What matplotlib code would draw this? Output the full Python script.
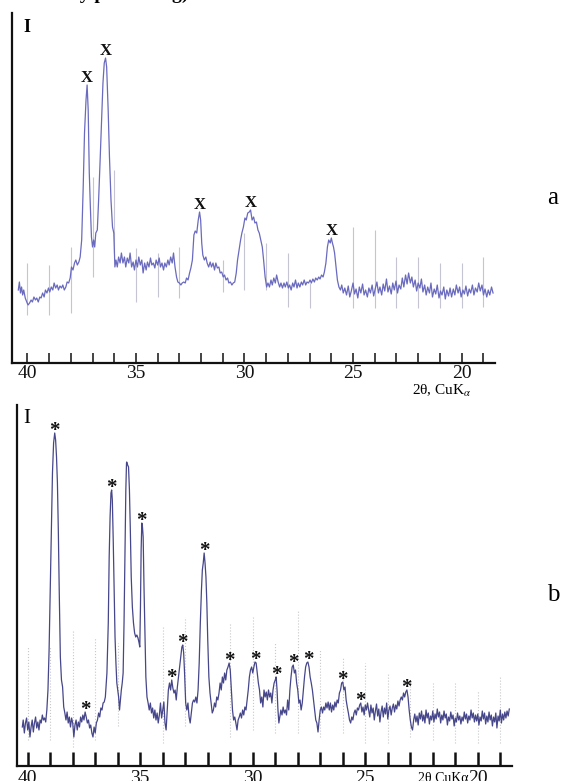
"""
plot.py
XRD patterns (a) and (b), 2θ CuKα, redrawn with matplotlib
"""
import numpy as np
import matplotlib
matplotlib.use('Agg')
import matplotlib.pyplot as plt

plt.rcParams['font.family'] = ['Liberation Serif', 'DejaVu Serif']
plt.rcParams['mathtext.fontset'] = 'stix'

# ──────────────────────────────────────────────────────────────
# Data: (2θ, intensity in arbitrary units)
# ──────────────────────────────────────────────────────────────
SCAN_A = [
    (40.42, 73), (40.37, 81), (40.32, 70), (40.27, 76), (40.22, 68), (40.17, 73),
    (40.10, 65), (40.03, 61), (39.97, 58), (39.90, 60), (39.83, 63), (39.77, 61),
    (39.70, 66), (39.63, 63), (39.57, 65), (39.50, 61), (39.43, 66), (39.37, 65),
    (39.30, 70), (39.23, 66), (39.17, 73), (39.10, 70), (39.03, 75), (38.97, 71),
    (38.90, 76), (38.83, 73), (38.77, 80), (38.70, 75), (38.63, 78), (38.57, 73),
    (38.50, 77), (38.43, 75), (38.37, 78), (38.30, 73), (38.23, 76), (38.17, 81),
    (38.10, 80), (38.03, 85), (37.97, 96), (37.90, 93), (37.83, 100), (37.77, 103),
    (37.70, 98), (37.63, 101), (37.57, 106), (37.50, 123), (37.43, 176), (37.37, 230),
    (37.30, 263), (37.25, 278), (37.20, 253), (37.15, 190), (37.10, 156), (37.05, 126),
    (37.00, 116), (36.95, 123), (36.90, 116), (36.85, 130), (36.78, 133), (36.72, 163),
    (36.65, 203), (36.58, 246), (36.52, 280), (36.46, 300), (36.40, 305), (36.35, 296),
    (36.28, 253), (36.22, 206), (36.15, 163), (36.08, 136), (36.02, 130), (35.97, 96),
    (35.92, 103), (35.86, 96), (35.80, 106), (35.73, 100), (35.67, 110), (35.60, 100),
    (35.53, 106), (35.47, 96), (35.40, 105), (35.33, 100), (35.27, 110), (35.20, 96),
    (35.13, 101), (35.07, 93), (35.00, 103), (34.93, 96), (34.87, 106), (34.80, 98),
    (34.73, 103), (34.67, 90), (34.60, 100), (34.53, 93), (34.47, 101), (34.40, 96),
    (34.33, 105), (34.27, 98), (34.20, 100), (34.13, 95), (34.07, 103), (34.00, 98),
    (33.93, 105), (33.87, 96), (33.80, 100), (33.73, 93), (33.67, 100), (33.60, 96),
    (33.53, 103), (33.47, 98), (33.40, 106), (33.33, 100), (33.27, 110), (33.20, 96),
    (33.13, 86), (33.07, 81), (33.00, 80), (32.93, 78), (32.87, 80), (32.80, 81),
    (32.73, 80), (32.67, 85), (32.60, 83), (32.53, 90), (32.47, 95), (32.40, 103),
    (32.33, 128), (32.27, 132), (32.20, 130), (32.13, 143), (32.07, 151), (32.02, 143),
    (31.97, 120), (31.92, 108), (31.85, 103), (31.78, 106), (31.72, 100), (31.65, 96),
    (31.58, 101), (31.52, 96), (31.45, 100), (31.38, 93), (31.32, 100), (31.25, 95),
    (31.18, 96), (31.12, 90), (31.05, 91), (30.98, 86), (30.92, 88), (30.85, 83),
    (30.78, 85), (30.72, 80), (30.65, 81), (30.58, 78), (30.52, 80), (30.45, 81),
    (30.38, 90), (30.32, 103), (30.25, 113), (30.18, 123), (30.12, 130), (30.05, 136),
    (29.98, 145), (29.92, 143), (29.85, 150), (29.78, 151), (29.72, 153), (29.65, 143),
    (29.58, 146), (29.52, 140), (29.45, 141), (29.38, 133), (29.32, 130), (29.25, 123),
    (29.18, 116), (29.12, 103), (29.05, 86), (28.98, 76), (28.92, 80), (28.85, 76),
    (28.78, 83), (28.72, 78), (28.65, 85), (28.58, 80), (28.52, 88), (28.45, 81),
    (28.38, 76), (28.32, 80), (28.25, 75), (28.18, 80), (28.12, 76), (28.05, 81),
    (27.98, 75), (27.92, 78), (27.85, 73), (27.78, 80), (27.72, 76), (27.65, 83),
    (27.58, 75), (27.52, 80), (27.45, 76), (27.38, 81), (27.32, 78), (27.25, 83),
    (27.18, 78), (27.12, 81), (27.05, 80), (26.98, 83), (26.92, 80), (26.85, 84),
    (26.78, 81), (26.72, 85), (26.65, 83), (26.58, 86), (26.52, 84), (26.45, 88),
    (26.38, 86), (26.32, 91), (26.25, 100), (26.18, 116), (26.12, 123), (26.05, 120),
    (26.00, 125), (25.95, 120), (25.90, 116), (25.85, 110), (25.78, 96), (25.72, 83),
    (25.65, 76), (25.58, 73), (25.52, 78), (25.45, 70), (25.38, 75), (25.30, 68),
    (25.22, 77), (25.15, 66), (25.08, 72), (25.00, 80), (24.93, 69), (24.86, 74),
    (24.78, 65), (24.71, 76), (24.64, 70), (24.56, 79), (24.49, 68), (24.42, 73),
    (24.34, 66), (24.27, 75), (24.20, 70), (24.12, 78), (24.05, 67), (23.98, 74),
    (23.90, 81), (23.83, 70), (23.76, 76), (23.68, 68), (23.61, 79), (23.54, 72),
    (23.46, 84), (23.39, 71), (23.32, 77), (23.24, 69), (23.17, 80), (23.10, 73),
    (23.02, 82), (22.95, 70), (22.88, 78), (22.80, 74), (22.73, 85), (22.66, 76),
    (22.58, 88), (22.51, 79), (22.44, 90), (22.36, 80), (22.29, 86), (22.22, 76),
    (22.14, 83), (22.07, 72), (22.00, 80), (21.92, 75), (21.85, 84), (21.78, 71),
    (21.70, 78), (21.63, 68), (21.56, 76), (21.48, 70), (21.41, 80), (21.34, 66),
    (21.26, 74), (21.19, 69), (21.12, 78), (21.04, 65), (20.97, 72), (20.90, 68),
    (20.82, 76), (20.75, 64), (20.68, 73), (20.60, 67), (20.53, 75), (20.46, 66),
    (20.38, 74), (20.31, 68), (20.24, 78), (20.16, 70), (20.09, 76), (20.02, 66),
    (19.94, 73), (19.87, 69), (19.80, 77), (19.72, 67), (19.65, 74), (19.58, 70),
    (19.50, 78), (19.43, 68), (19.36, 75), (19.28, 71), (19.21, 80), (19.14, 72),
    (19.06, 78), (18.99, 68), (18.92, 74), (18.84, 66), (18.77, 73), (18.70, 68),
    (18.62, 76), (18.55, 70),
]

PEAKS_A = [37.25, 36.40, 32.07, 29.72, 26.00]          # marked "X"

# faint vertical instrument lines of pattern a: position, low, high
SPIKE_A_POS = [40, 39, 38, 37, 36, 35, 34, 33, 31, 30, 29, 28, 27, 25, 24, 23, 22, 21, 20, 19]
SPIKE_A_LO = [48, 48, 50, 86, 110, 61, 66, 65, 71, 73, 73, 56, 55, 55, 55, 55, 55, 55, 55, 56]
SPIKE_A_HI = [100, 98, 116, 186, 193, 115, 110, 116, 103, 130, 120, 110, 80, 136, 133, 106, 106, 100, 100, 106]

SCAN_B = [
    (40.24, 39), (40.20, 46), (40.15, 33), (40.10, 43), (40.05, 48), (40.00, 36),
    (39.95, 44), (39.90, 29), (39.85, 39), (39.80, 46), (39.75, 34), (39.70, 43),
    (39.65, 49), (39.60, 38), (39.55, 44), (39.50, 36), (39.45, 46), (39.40, 43),
    (39.35, 51), (39.30, 46), (39.25, 48), (39.20, 44), (39.15, 56), (39.10, 76),
    (39.05, 116), (39.00, 176), (38.95, 236), (38.90, 293), (38.85, 323), (38.80, 333),
    (38.76, 326), (38.72, 309), (38.68, 283), (38.64, 236), (38.60, 176), (38.55, 109),
    (38.50, 86), (38.45, 79), (38.40, 59), (38.35, 53), (38.30, 46), (38.25, 54),
    (38.20, 43), (38.15, 49), (38.10, 39), (38.05, 48), (38.00, 43), (37.95, 29),
    (37.90, 41), (37.85, 46), (37.80, 36), (37.75, 44), (37.70, 39), (37.65, 49),
    (37.60, 44), (37.55, 51), (37.50, 46), (37.45, 54), (37.40, 49), (37.35, 43),
    (37.30, 46), (37.25, 38), (37.20, 41), (37.15, 33), (37.10, 29), (37.05, 39),
    (37.00, 33), (36.95, 43), (36.90, 46), (36.85, 53), (36.80, 49), (36.75, 58),
    (36.70, 56), (36.65, 63), (36.60, 64), (36.55, 69), (36.48, 93), (36.42, 143),
    (36.38, 209), (36.34, 249), (36.30, 273), (36.27, 276), (36.24, 266), (36.20, 226),
    (36.16, 176), (36.12, 129), (36.08, 103), (36.04, 83), (36.00, 76), (35.96, 69),
    (35.92, 56), (35.88, 66), (35.84, 76), (35.80, 83), (35.76, 93), (35.72, 143),
    (35.68, 209), (35.64, 276), (35.61, 303), (35.60, 304), (35.56, 301), (35.52, 299),
    (35.48, 276), (35.44, 236), (35.40, 189), (35.35, 159), (35.30, 143), (35.25, 133),
    (35.20, 129), (35.15, 131), (35.10, 128), (35.05, 123), (35.02, 119), (34.99, 159),
    (34.96, 216), (34.93, 243), (34.90, 239), (34.87, 229), (34.83, 176), (34.79, 133),
    (34.75, 89), (34.70, 69), (34.65, 63), (34.60, 56), (34.55, 63), (34.50, 53),
    (34.45, 58), (34.40, 48), (34.35, 56), (34.30, 46), (34.25, 53), (34.20, 43),
    (34.15, 51), (34.10, 63), (34.05, 48), (34.00, 56), (33.95, 64), (33.90, 43),
    (33.85, 36), (33.80, 56), (33.75, 76), (33.70, 83), (33.65, 76), (33.60, 86),
    (33.55, 78), (33.50, 73), (33.45, 76), (33.40, 66), (33.35, 79), (33.30, 89),
    (33.25, 99), (33.20, 109), (33.15, 119), (33.11, 121), (33.07, 113), (33.03, 93),
    (32.98, 63), (32.93, 56), (32.88, 63), (32.83, 49), (32.78, 43), (32.73, 53),
    (32.68, 63), (32.63, 66), (32.58, 64), (32.53, 69), (32.48, 63), (32.43, 76),
    (32.38, 103), (32.33, 143), (32.28, 176), (32.24, 196), (32.20, 203), (32.16, 213),
    (32.12, 203), (32.08, 189), (32.04, 163), (32.00, 126), (31.95, 89), (31.90, 73),
    (31.85, 63), (31.80, 53), (31.75, 56), (31.70, 63), (31.65, 59), (31.60, 69),
    (31.55, 66), (31.50, 73), (31.45, 83), (31.40, 76), (31.35, 89), (31.30, 83),
    (31.25, 93), (31.20, 86), (31.15, 96), (31.10, 99), (31.05, 103), (31.00, 96),
    (30.95, 76), (30.90, 56), (30.85, 46), (30.80, 49), (30.75, 43), (30.70, 36),
    (30.65, 46), (30.60, 49), (30.55, 53), (30.50, 48), (30.45, 56), (30.40, 51),
    (30.35, 59), (30.30, 56), (30.25, 66), (30.20, 76), (30.15, 89), (30.10, 96),
    (30.05, 99), (30.00, 93), (29.95, 99), (29.90, 104), (29.85, 103), (29.80, 93),
    (29.75, 83), (29.70, 76), (29.65, 63), (29.60, 69), (29.55, 59), (29.50, 76),
    (29.45, 69), (29.40, 74), (29.35, 66), (29.30, 76), (29.25, 69), (29.20, 73),
    (29.15, 63), (29.10, 76), (29.05, 83), (29.00, 86), (28.96, 89), (28.92, 76),
    (28.88, 56), (28.84, 43), (28.80, 49), (28.75, 56), (28.70, 51), (28.65, 59),
    (28.60, 53), (28.55, 56), (28.50, 51), (28.45, 66), (28.40, 56), (28.35, 76),
    (28.30, 89), (28.25, 99), (28.20, 101), (28.15, 93), (28.10, 96), (28.05, 83),
    (28.00, 76), (27.95, 63), (27.90, 66), (27.85, 56), (27.80, 63), (27.75, 76),
    (27.70, 89), (27.65, 99), (27.60, 103), (27.55, 104), (27.50, 99), (27.45, 89),
    (27.40, 83), (27.35, 76), (27.30, 66), (27.25, 56), (27.20, 46), (27.15, 43),
    (27.10, 34), (27.05, 46), (27.00, 56), (26.95, 59), (26.90, 53), (26.85, 59),
    (26.80, 56), (26.75, 63), (26.70, 58), (26.65, 64), (26.60, 56), (26.55, 63),
    (26.50, 54), (26.45, 61), (26.40, 56), (26.35, 64), (26.30, 59), (26.25, 66),
    (26.20, 63), (26.15, 73), (26.10, 76), (26.05, 83), (26.00, 84), (25.95, 76),
    (25.90, 79), (25.85, 66), (25.80, 59), (25.75, 53), (25.70, 46), (25.65, 43),
    (25.60, 49), (25.55, 46), (25.50, 53), (25.45, 56), (25.40, 51), (25.35, 58),
    (25.30, 56), (25.25, 61), (25.20, 63), (25.15, 54), (25.10, 59), (25.05, 51),
    (25.00, 61), (24.95, 56), (24.90, 63), (24.85, 56), (24.80, 49), (24.75, 61),
    (24.70, 53), (24.65, 58), (24.60, 46), (24.55, 55), (24.50, 62), (24.45, 50),
    (24.40, 57), (24.35, 44), (24.30, 54), (24.25, 60), (24.20, 49), (24.15, 58),
    (24.10, 52), (24.05, 63), (24.00, 47), (23.95, 56), (23.90, 60), (23.85, 51),
    (23.80, 58), (23.75, 62), (23.70, 54), (23.65, 61), (23.60, 57), (23.55, 65),
    (23.50, 60), (23.45, 66), (23.40, 69), (23.35, 66), (23.30, 73), (23.25, 69),
    (23.20, 74), (23.15, 76), (23.10, 69), (23.05, 56), (23.00, 46), (22.95, 39),
    (22.90, 36), (22.85, 46), (22.80, 52), (22.75, 44), (22.70, 50), (22.65, 41),
    (22.60, 53), (22.55, 47), (22.50, 55), (22.45, 45), (22.40, 51), (22.35, 43),
    (22.30, 56), (22.25, 48), (22.20, 53), (22.15, 42), (22.10, 50), (22.05, 46),
    (22.00, 55), (21.95, 44), (21.90, 52), (21.85, 47), (21.80, 57), (21.75, 49),
    (21.70, 54), (21.65, 43), (21.60, 51), (21.55, 46), (21.50, 55), (21.45, 48),
    (21.40, 52), (21.35, 41), (21.30, 49), (21.25, 45), (21.20, 54), (21.15, 47),
    (21.10, 51), (21.05, 40), (21.00, 48), (20.95, 44), (20.90, 53), (20.85, 46),
    (20.80, 50), (20.75, 42), (20.70, 49), (20.65, 45), (20.60, 54), (20.55, 47),
    (20.50, 52), (20.45, 43), (20.40, 50), (20.35, 46), (20.30, 56), (20.25, 48),
    (20.20, 53), (20.15, 44), (20.10, 51), (20.05, 45), (20.00, 52), (19.95, 41),
    (19.90, 49), (19.85, 45), (19.80, 55), (19.75, 47), (19.70, 53), (19.65, 42),
    (19.60, 50), (19.55, 44), (19.50, 54), (19.45, 46), (19.40, 51), (19.35, 40),
    (19.30, 49), (19.25, 44), (19.20, 53), (19.15, 38), (19.10, 50), (19.05, 45),
    (19.00, 56), (18.95, 43), (18.90, 52), (18.85, 46), (18.80, 54), (18.75, 48),
    (18.70, 55), (18.65, 50), (18.60, 57),
]

PEAKS_B = [38.80, 37.45, 36.28, 34.93, 33.60, 33.11, 32.16, 31.05,
           29.90, 28.96, 28.20, 27.55, 26.02, 25.20, 23.17]   # marked "*"

SPIKE_B_POS = [40, 39, 38, 37, 36, 34, 33, 31, 30, 29, 28, 27, 26, 25, 24, 23, 22, 21, 20, 19]
SPIKE_B_LO = [26, 26, 19, 26, 40, 23, 40, 29, 36, 33, 33, 29, 33, 23, 23, 29, 26, 23, 23, 23]
SPIKE_B_HI = [119, 119, 136, 129, 123, 139, 149, 143, 149, 123, 156, 116, 109, 103, 93, 86, 83, 83, 76, 89]

TICKS = list(range(19, 41))

# ──────────────────────────────────────────────────────────────
# layout (figure pixels)
# ──────────────────────────────────────────────────────────────
W, H = 567, 781
C_A = '#6a6abf'
C_B = '#46468a'


def _rect(left, top, right, bottom):
    return [left / W, 1 - bottom / H, (right - left) / W, (bottom - top) / H]


def _style(ax, tick_len, tick_w, pad):
    for side in ('top', 'right'):
        ax.spines[side].set_visible(False)
    for side in ('left', 'bottom'):
        ax.spines[side].set_linewidth(1.6)
        ax.spines[side].set_color('#111111')
    ax.set_yticks([])
    ax.set_xticks(TICKS)
    ax.set_xticklabels([str(t) if t % 5 == 0 else '' for t in TICKS])
    ax.tick_params(axis='x', direction='in', length=tick_len, width=tick_w,
                   pad=pad, labelsize=14, colors='#111111')
    ax.patch.set_alpha(0)


def _peak_top(tt, ii, pos, half=0.12):
    m = np.abs(tt - pos) <= half
    return ii[m].max()


def draw_panel(ax, scan, peaks, mark, spikes, color, spike_style, mark_kw, off_pt):
    tt, ii = map(np.array, zip(*scan))
    pos, lo, hi = spikes
    ax.vlines(pos, lo, hi, **spike_style)
    ax.plot(tt, ii, color=color, lw=0.9, solid_joinstyle='round')
    for p in peaks:
        top = _peak_top(tt, ii, p)
        ax.annotate(mark, xy=(p, top), xytext=(0, off_pt),
                    textcoords='offset points', ha='center', va='baseline',
                    **mark_kw)


fig = plt.figure(figsize=(W / 100, H / 100), dpi=100, facecolor='white')

# ── pattern a
ax_a = fig.add_axes(_rect(12, 13, 495, 363))
draw_panel(ax_a, SCAN_A, PEAKS_A, 'X', (SPIKE_A_POS, SPIKE_A_LO, SPIKE_A_HI), C_A,
           dict(colors='#c4c4d2', lw=0.8),
           dict(fontsize=12, fontweight='bold', color='#111111'), 2.0)
ax_a.set_xlim(40.71, 18.46)
ax_a.set_ylim(0, 350)
_style(ax_a, 7.2, 1.1, 1.5)

# ── pattern b
ax_b = fig.add_axes(_rect(17, 405, 512, 766))
draw_panel(ax_b, SCAN_B, PEAKS_B, '*', (SPIKE_B_POS, SPIKE_B_LO, SPIKE_B_HI), C_B,
           dict(colors='#c8c8c8', lw=0.8, linestyles=':'),
           dict(fontsize=15, fontweight='bold', color='#111111'), -2.0)
ax_b.set_xlim(40.476, 18.48)
ax_b.set_ylim(0, 361)
_style(ax_b, 10, 1.8, 3)

# ── texts
fig.text(27 / W, 1 - 32 / H, 'I', ha='center', va='baseline',
         fontsize=13, fontweight='bold')
fig.text(27 / W, 1 - 423 / H, 'I', ha='center', va='baseline', fontsize=15)
fig.text(442 / W, 1 - 391 / H, r'2θ, CuK$_{\alpha}$', ha='center', va='center',
         fontsize=11)
fig.text(443 / W, 1 - 779 / H, '2θ CuKα', ha='center', va='center', fontsize=10)
fig.text(553 / W, 1 - 204 / H, 'a', ha='center', va='baseline', fontsize=18)
fig.text(553 / W, 1 - 601 / H, 'b', ha='center', va='baseline', fontsize=18)
# caption line cut off by the top edge of the picture
fig.text(69 / W, 1 + 1 / H, 'by processing)', ha='left', va='baseline',
         fontsize=14, fontweight='bold')

fig.savefig('out.png', dpi=100, facecolor='white')
